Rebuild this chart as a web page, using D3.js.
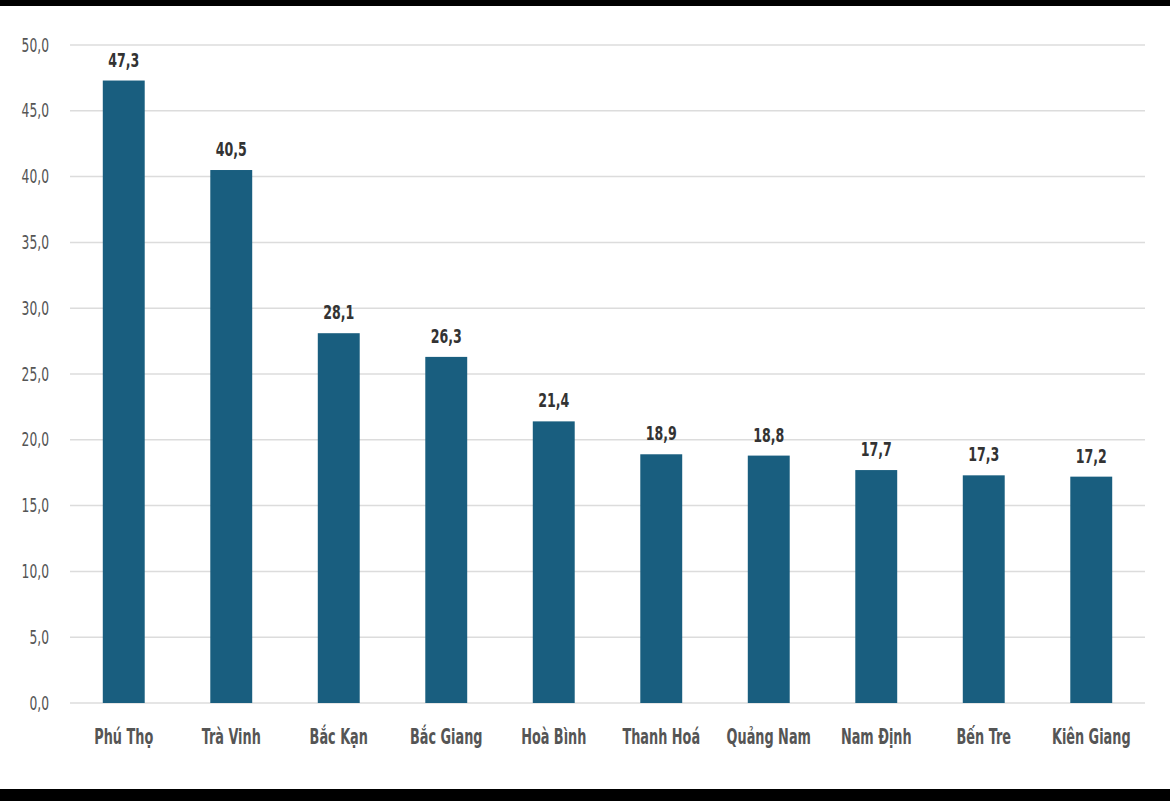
<!DOCTYPE html>
<html>
<head>
<meta charset="utf-8">
<script src="https://cdn.jsdelivr.net/npm/d3@7"></script>
<style>
  body { margin: 0; background: #000; }
  svg { display: block; }
  text { font-family: "Liberation Sans Narrow", "DejaVu Sans Condensed", "DejaVu Sans", sans-serif; }
</style>
</head>
<body>
<div id="chart"></div>
<script>
const provinces = ["Phú Thọ", "Trà Vinh", "Bắc Kạn", "Bắc Giang", "Hoà Bình", "Thanh Hoá", "Quảng Nam", "Nam Định", "Bến Tre", "Kiên Giang"];
const values = [47.3, 40.5, 28.1, 26.3, 21.4, 18.9, 18.8, 17.7, 17.3, 17.2];
const yTicks = [0, 5, 10, 15, 20, 25, 30, 35, 40, 45, 50];

const W = 1170, H = 801;
const fmt = v => v.toFixed(1).replace(".", ",");

// squeeze text horizontally to look like the narrow font in the picture
function condense(sel, k) {
  sel.each(function() {
    const len = this.getComputedTextLength();
    d3.select(this).attr("textLength", len * k).attr("lengthAdjust", "spacingAndGlyphs");
  });
}

const svg = d3.select("#chart").append("svg")
  .attr("width", W)
  .attr("height", H);

svg.append("rect")
  .attr("x", 0).attr("y", 6)
  .attr("width", W).attr("height", 783)
  .attr("fill", "#fff");

const x = d3.scaleBand().domain(provinces).range([70, 1145]).paddingInner(0.61).paddingOuter(0.305);
const y = d3.scaleLinear().domain([0, 50]).range([703, 45]);

svg.append("g")
  .selectAll("line")
  .data(yTicks)
  .join("line")
  .attr("x1", 70).attr("x2", 1145)
  .attr("y1", d => y(d)).attr("y2", d => y(d))
  .attr("stroke", "#dcdcdc")
  .attr("stroke-width", 1.5);

svg.append("g")
  .attr("transform", "translate(52,0)")
  .call(d3.axisLeft(y).tickValues(yTicks).tickFormat(fmt).tickSize(0))
  .call(g => g.select(".domain").remove())
  .selectAll("text")
  .attr("font-size", 19)
  .attr("fill", "#555")
  .call(condense, 0.72);

svg.append("g")
  .selectAll("rect")
  .data(values)
  .join("rect")
  .attr("x", (d, i) => x(provinces[i]))
  .attr("y", d => y(d))
  .attr("width", x.bandwidth())
  .attr("height", d => y(0) - y(d))
  .attr("fill", "#195e7f");

svg.append("g")
  .selectAll("text")
  .data(values)
  .join("text")
  .attr("x", (d, i) => x(provinces[i]) + x.bandwidth() / 2)
  .attr("y", d => y(d) - 14)
  .attr("text-anchor", "middle")
  .attr("font-size", 20)
  .attr("font-weight", "bold")
  .attr("fill", "#333")
  .text(fmt)
  .call(condense, 0.7);

svg.append("g")
  .attr("transform", "translate(0,703)")
  .call(d3.axisBottom(x).tickSize(0).tickPadding(26))
  .call(g => g.select(".domain").remove())
  .selectAll("text")
  .attr("font-size", 21)
  .attr("font-weight", "bold")
  .attr("fill", "#555")
  .call(condense, 0.68);

svg.append("rect").attr("x", 0).attr("y", 0).attr("width", W).attr("height", 6).attr("fill", "#000");
svg.append("rect").attr("x", 0).attr("y", 789).attr("width", W).attr("height", 12).attr("fill", "#000");
</script>
</body>
</html>
